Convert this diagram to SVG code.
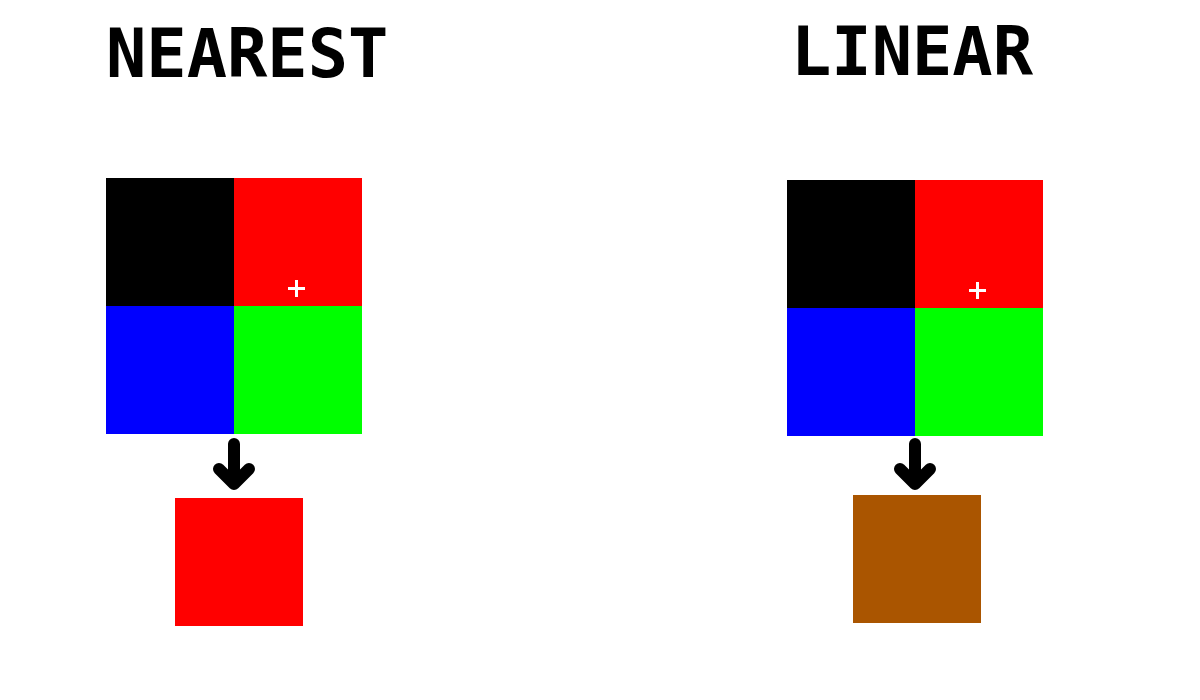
<svg xmlns="http://www.w3.org/2000/svg" width="1200" height="700" viewBox="0 0 1200 700">
<style>
.title{font-family:"DejaVu Sans Mono","Liberation Mono",monospace;font-weight:bold;font-size:67px;fill:#000}
.plus{stroke:#fff;stroke-width:3;fill:none}
.arrow{stroke:#000;stroke-width:12;fill:none;stroke-linecap:round;stroke-linejoin:round}
</style>
<rect width="1200" height="700" fill="#fff"/>
<g id="nearest">
<text class="title" x="106" y="77">NEAREST</text>
<g id="nearest-grid">
<rect x="106" y="178" width="128" height="128" fill="#000"/>
<rect x="234" y="178" width="128" height="128" fill="#f00"/>
<rect x="106" y="306" width="128" height="128" fill="#00f"/>
<rect x="234" y="306" width="128" height="128" fill="#0f0"/>
<path class="plus" d="M288,288.5H305M296.5,280V297"/>
</g>
<rect id="nearest-result" x="175" y="498" width="128" height="128" fill="#f00"/>
</g>
<g id="linear">
<text class="title" x="791" y="75">LINEAR</text>
<g id="linear-grid">
<rect x="787" y="180" width="128" height="128" fill="#000"/>
<rect x="915" y="180" width="128" height="128" fill="#f00"/>
<rect x="787" y="308" width="128" height="128" fill="#00f"/>
<rect x="915" y="308" width="128" height="128" fill="#0f0"/>
<path class="plus" d="M969,290.5H986M977.5,282V299"/>
</g>
<rect id="linear-result" x="853" y="495" width="128" height="128" fill="#a50"/>
</g>
<g id="connectors">
<path class="arrow" d="M234,444V484M219,469L234,484L249,469"/>
<path class="arrow" d="M915,444V484M900,469L915,484L930,469"/>
</g>
</svg>
